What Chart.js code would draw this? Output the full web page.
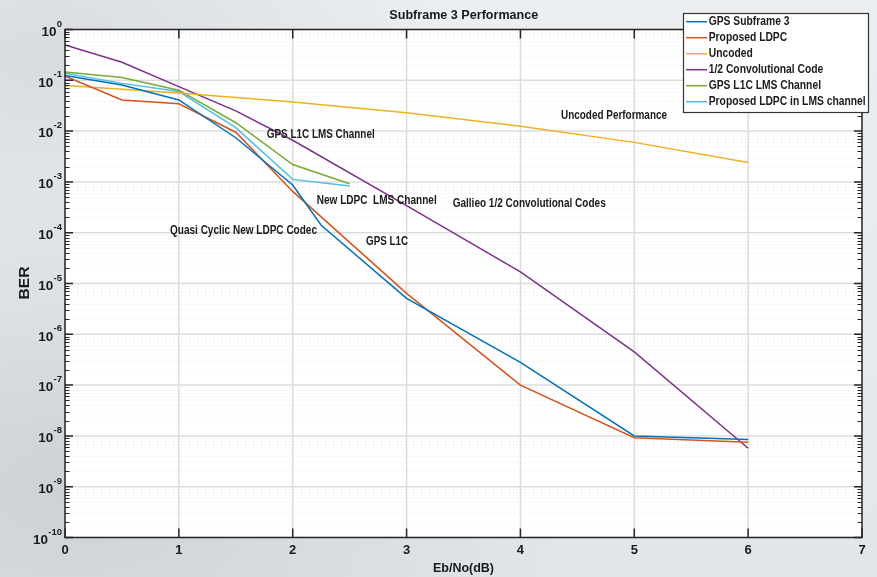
<!DOCTYPE html>
<html>
<head>
<meta charset="utf-8">
<script src="https://cdn.jsdelivr.net/npm/chart.js@4.4.0/dist/chart.umd.min.js"></script>
<style>
  html, body { margin: 0; padding: 0; }
  body {
    width: 877px; height: 577px; overflow: hidden;
    background:
      radial-gradient(ellipse at 8% 85%, #cdd2d6 0%, rgba(205,210,214,0) 45%),
      radial-gradient(ellipse at 5% 10%, #d8dce0 0%, rgba(216,220,224,0) 35%),
      linear-gradient(180deg, #eceff1 0%, #e7eaed 60%, #e2e6e9 100%);
  }
  canvas { display: block; }
</style>
</head>
<body>
<canvas id="myChart" width="877" height="577"></canvas>
<script>
// ejes
const xTicks = [0, 1, 2, 3, 4, 5, 6, 7];
const yExponents = [0, -1, -2, -3, -4, -5, -6, -7, -8, -9, -10];

// GPS Subframe 3
const ebnoSubframe3 = [0, 0.5, 1, 1.5, 2, 2.25, 3, 4, 5, 6];
const berSubframe3 = [0.125, 0.081, 0.041, 0.0074, 8.7e-4, 1.4e-4, 5.1e-6, 2.8e-7, 1.0e-8, 8.5e-9];

// Proposed LDPC
const ebnoLdpc = [0, 0.5, 1, 1.5, 2, 3, 4, 5, 6];
const berLdpc = [0.12, 0.041, 0.0346, 0.0095, 6.5e-4, 6.4e-6, 1.0e-7, 9.2e-9, 7.5e-9];

// Uncoded
const ebnoUncoded = [0, 1, 2, 3, 4, 5, 6];
const berUncoded = [0.079, 0.056, 0.0375, 0.0229, 0.0125, 0.006, 0.0024];

// 1/2 Convolutional Code
const ebnoConv = [0, 0.5, 1, 1.5, 2, 3, 4, 5, 6];
const berConv = [0.495, 0.226, 0.075, 0.025, 0.0066, 3.4e-4, 1.7e-5, 4.5e-7, 5.7e-9];

// GPS L1C LMS Channel
const ebnoL1cLms = [0, 0.5, 1, 1.5, 2, 2.5];
const berL1cLms = [0.146, 0.114, 0.064, 0.0146, 0.0022, 9.2e-4];

// Proposed LDPC in LMS channel
const ebnoLdpcLms = [0, 0.5, 1, 1.5, 2, 2.5];
const berLdpcLms = [0.137, 0.087, 0.060, 0.0117, 0.00112, 8.3e-4];

const nombresSeries = ['GPS Subframe 3', 'Proposed LDPC', 'Uncoded', '1/2 Convolutional Code', 'GPS L1C LMS Channel', 'Proposed LDPC in LMS channel'];
const coloresSeries = ['#0072BD', '#D95319', '#EDB120', '#7E2F8E', '#77AC30', '#4DBEEE'];

// textos sobre el gráfico
const anotaciones = [
  { text: 'Uncoded Performance', x: 561, y: 116, w: 106 },
  { text: 'GPS L1C LMS Channel', x: 266.7, y: 135, w: 108 },
  { text: 'New LDPC  LMS Channel', x: 316.7, y: 200.7, w: 120 },
  { text: 'Gallieo 1/2 Convolutional Codes', x: 452.7, y: 204, w: 153 },
  { text: 'Quasi Cyclic New LDPC Codec', x: 170, y: 230.7, w: 147 },
  { text: 'GPS L1C', x: 366, y: 241.7, w: 42 }
];

function puntos(xs, ys) {
  return xs.map((x, i) => ({ x: x, y: ys[i] }));
}

const seriesX = [ebnoSubframe3, ebnoLdpc, ebnoUncoded, ebnoConv, ebnoL1cLms, ebnoLdpcLms];
const seriesY = [berSubframe3, berLdpc, berUncoded, berConv, berL1cLms, berLdpcLms];

const FONT = '"Liberation Sans", Arial, Helvetica, sans-serif';

// texto con ancho ajustado (la fuente original es más estrecha)
function texto(ctx, str, x, y, size, align, ancho) {
  ctx.save();
  ctx.font = 'bold ' + size + 'px ' + FONT;
  ctx.textBaseline = 'middle';
  ctx.textAlign = 'left';
  const medida = ctx.measureText(str).width;
  const k = ancho ? ancho / medida : 1;
  let x0 = x;
  if (align === 'center') x0 = x - medida * k / 2;
  if (align === 'right') x0 = x - medida * k;
  ctx.translate(x0, y);
  ctx.scale(k, 1);
  ctx.fillStyle = '#1a1a1a';
  ctx.fillText(str, 0, 0);
  ctx.restore();
}

const ejesMatlab = {
  id: 'ejesMatlab',
  beforeDatasetsDraw(chart) {
    const ctx = chart.ctx;
    const a = chart.chartArea;
    const sx = chart.scales.x;
    const sy = chart.scales.y;
    ctx.save();
    ctx.fillStyle = '#ffffff';
    ctx.fillRect(a.left, a.top, a.right - a.left, a.bottom - a.top);

    // rejilla menor punteada
    ctx.strokeStyle = '#e9e9e9';
    ctx.lineWidth = 1;
    ctx.setLineDash([1, 3]);
    for (let e = -10; e < 0; e++) {
      for (let k = 2; k <= 9; k++) {
        const py = Math.round(sy.getPixelForValue(k * Math.pow(10, e))) + 0.5;
        ctx.beginPath();
        ctx.moveTo(a.left, py);
        ctx.lineTo(a.right, py);
        ctx.stroke();
      }
    }
    ctx.setLineDash([]);

    // rejilla mayor
    ctx.strokeStyle = '#dcdcdc';
    ctx.lineWidth = 1.5;
    yExponents.forEach(e => {
      const py = sy.getPixelForValue(Math.pow(10, e));
      ctx.beginPath();
      ctx.moveTo(a.left, py);
      ctx.lineTo(a.right, py);
      ctx.stroke();
    });
    xTicks.forEach(v => {
      const px = sx.getPixelForValue(v);
      ctx.beginPath();
      ctx.moveTo(px, a.top);
      ctx.lineTo(px, a.bottom);
      ctx.stroke();
    });
    ctx.restore();
  },
  afterDatasetsDraw(chart) {
    const ctx = chart.ctx;
    const a = chart.chartArea;
    const sx = chart.scales.x;
    const sy = chart.scales.y;
    ctx.save();

    // caja de ejes
    ctx.strokeStyle = '#262626';
    ctx.lineWidth = 1.5;
    ctx.strokeRect(a.left, a.top, a.right - a.left, a.bottom - a.top);

    // marcas en x
    ctx.lineWidth = 1.5;
    xTicks.forEach(v => {
      const px = sx.getPixelForValue(v);
      ctx.beginPath();
      ctx.moveTo(px, a.bottom);
      ctx.lineTo(px, a.bottom - 9);
      ctx.moveTo(px, a.top);
      ctx.lineTo(px, a.top + 9);
      ctx.stroke();
      texto(ctx, String(v), px, 550, 13, 'center');
    });

    // marcas en y (mayores y menores)
    yExponents.forEach(e => {
      const py = sy.getPixelForValue(Math.pow(10, e));
      ctx.lineWidth = 1.5;
      ctx.beginPath();
      ctx.moveTo(a.left, py);
      ctx.lineTo(a.left + 8, py);
      ctx.moveTo(a.right, py);
      ctx.lineTo(a.right - 8, py);
      ctx.stroke();
      if (e < 0) {
        ctx.lineWidth = 1;
        for (let k = 2; k <= 9; k++) {
          const pm = Math.round(sy.getPixelForValue(k * Math.pow(10, e))) + 0.5;
          ctx.beginPath();
          ctx.moveTo(a.left, pm);
          ctx.lineTo(a.left + 4.5, pm);
          ctx.moveTo(a.right, pm);
          ctx.lineTo(a.right - 4.5, pm);
          ctx.stroke();
        }
      }
      // etiqueta 10^e
      ctx.font = 'bold 9.5px ' + FONT;
      const wExp = ctx.measureText(String(e)).width;
      const xExp = a.left - 3 - wExp;
      texto(ctx, String(e), xExp, py - 5.5, 9.5, 'left');
      texto(ctx, '10', xExp - 0.3, py + 2.5, 13.5, 'right');
    });

    // títulos
    texto(ctx, 'Subframe 3 Performance', 463.8, 15, 13.5, 'center', 149);
    texto(ctx, 'Eb/No(dB)', 463.5, 568.3, 13.5, 'center', 61);
    ctx.save();
    ctx.translate(25, 283);
    ctx.rotate(-Math.PI / 2);
    texto(ctx, 'BER', 0, 0, 14, 'center', 33);
    ctx.restore();

    // anotaciones
    anotaciones.forEach(t => texto(ctx, t.text, t.x, t.y, 12, 'left', t.w));

    // leyenda
    const lx = 683.5, ly = 13.5, lw = 185, lh = 99;
    ctx.fillStyle = '#ffffff';
    ctx.fillRect(lx, ly, lw, lh);
    ctx.strokeStyle = '#333333';
    ctx.lineWidth = 1.2;
    ctx.strokeRect(lx, ly, lw, lh);
    ctx.font = 'bold 12.5px ' + FONT;
    const kLeyenda = 157 / ctx.measureText(nombresSeries[5]).width;
    nombresSeries.forEach((n, i) => {
      const cy = 21.7 + i * 16;
      ctx.strokeStyle = coloresSeries[i];
      ctx.lineWidth = 1.5;
      ctx.beginPath();
      ctx.moveTo(686, cy);
      ctx.lineTo(707, cy);
      ctx.stroke();
      ctx.font = 'bold 12.5px ' + FONT;
      const w = ctx.measureText(n).width * kLeyenda;
      texto(ctx, n, 708.7, cy, 12.5, 'left', w);
    });
    ctx.restore();
  }
};

const ctx = document.getElementById('myChart').getContext('2d');
const myChart = new Chart(ctx, {
  type: 'line',
  data: {
    datasets: nombresSeries.map((n, i) => ({
      label: n,
      data: puntos(seriesX[i], seriesY[i]),
      borderColor: coloresSeries[i],
      backgroundColor: coloresSeries[i],
      borderWidth: 1.5,
      pointRadius: 0,
      tension: 0,
      fill: false
    }))
  },
  options: {
    responsive: false,
    animation: false,
    devicePixelRatio: 1,
    layout: { padding: { top: 29.5, right: 15, left: 0, bottom: 0 } },
    plugins: {
      legend: { display: false },
      title: { display: false },
      tooltip: { enabled: false }
    },
    scales: {
      x: {
        type: 'linear',
        min: 0,
        max: 7,
        ticks: { display: false },
        grid: { display: false },
        border: { display: false },
        afterFit: s => { s.height = 39.5; }
      },
      y: {
        type: 'logarithmic',
        min: 1e-10,
        max: 1,
        ticks: { display: false },
        grid: { display: false },
        border: { display: false },
        afterFit: s => { s.width = 65; }
      }
    }
  },
  plugins: [ejesMatlab]
});
</script>
</body>
</html>
